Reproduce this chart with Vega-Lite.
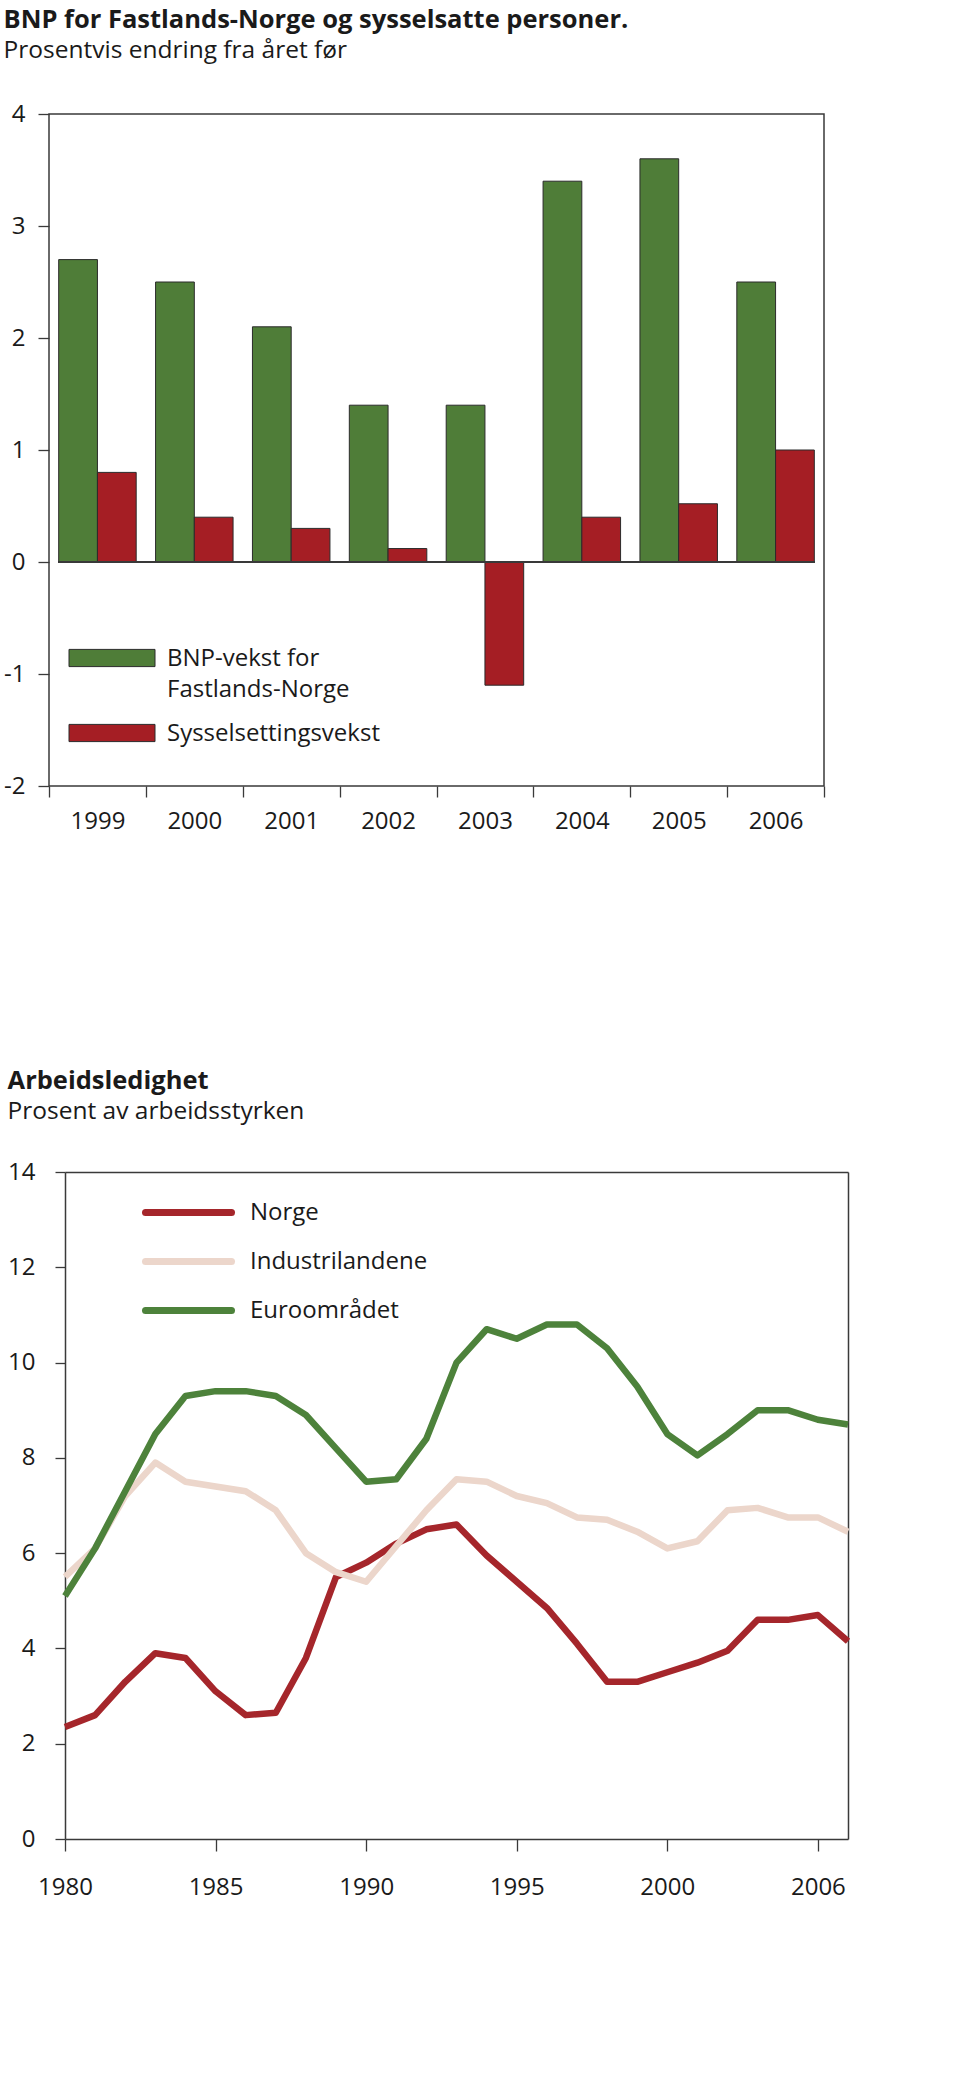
{
  "$schema": "https://vega.github.io/schema/vega-lite/v6.json",
  "background": "white",
  "padding": {"left": 2, "top": 7, "right": 10, "bottom": 10},
  "spacing": 235,
  "resolve": {"scale": {"color": "independent"}, "legend": {"color": "independent"}},
  "config": {
    "font": "Open Sans",
    "view": {"stroke": "#3a3a3a", "strokeWidth": 1.5},
    "title": {"anchor": "start", "frame": "bounds", "font": "Open Sans", "fontSize": 25.5, "fontWeight": "bold", "color": "#1a1a1a", "subtitleFont": "Open Sans", "subtitleFontSize": 24.5, "subtitleColor": "#1a1a1a", "subtitlePadding": 5},
    "axis": {"grid": false, "domain": false, "title": null, "labelFont": "Open Sans", "labelFontSize": 24, "labelColor": "#1a1a1a", "tickColor": "#3a3a3a", "tickWidth": 1.3, "domainColor": "#3a3a3a", "domainWidth": 1.5},
    "legend": {"title": null, "labelFont": "Open Sans", "labelFontSize": 24, "labelColor": "#1a1a1a", "padding": 0, "labelLimit": 0}
  },
  "vconcat": [
    {
      "title": {"text": "BNP for Fastlands-Norge og sysselsatte personer.", "subtitle": "Prosentvis endring fra året før", "offset": 40},
      "width": 775,
      "height": 672,
      "data": {"values": [
        {"year": "1999", "serie": "BNP-vekst for Fastlands-Norge", "value": 2.7},
        {"year": "1999", "serie": "Sysselsettingsvekst", "value": 0.8},
        {"year": "2000", "serie": "BNP-vekst for Fastlands-Norge", "value": 2.5},
        {"year": "2000", "serie": "Sysselsettingsvekst", "value": 0.4},
        {"year": "2001", "serie": "BNP-vekst for Fastlands-Norge", "value": 2.1},
        {"year": "2001", "serie": "Sysselsettingsvekst", "value": 0.3},
        {"year": "2002", "serie": "BNP-vekst for Fastlands-Norge", "value": 1.4},
        {"year": "2002", "serie": "Sysselsettingsvekst", "value": 0.12},
        {"year": "2003", "serie": "BNP-vekst for Fastlands-Norge", "value": 1.4},
        {"year": "2003", "serie": "Sysselsettingsvekst", "value": -1.1},
        {"year": "2004", "serie": "BNP-vekst for Fastlands-Norge", "value": 3.4},
        {"year": "2004", "serie": "Sysselsettingsvekst", "value": 0.4},
        {"year": "2005", "serie": "BNP-vekst for Fastlands-Norge", "value": 3.6},
        {"year": "2005", "serie": "Sysselsettingsvekst", "value": 0.52},
        {"year": "2006", "serie": "BNP-vekst for Fastlands-Norge", "value": 2.5},
        {"year": "2006", "serie": "Sysselsettingsvekst", "value": 1.0}
      ]},
      "layer": [
        {
          "mark": {"type": "bar", "stroke": "#2b2b2b", "strokeWidth": 1},
          "encoding": {
            "x": {"field": "year", "type": "ordinal", "scale": {"paddingInner": 0, "paddingOuter": 0},
                  "axis": {"tickBand": "extent", "labelAngle": 0, "tickSize": 11, "labelPadding": 12}},
            "xOffset": {"field": "serie", "type": "nominal", "sort": ["BNP-vekst for Fastlands-Norge", "Sysselsettingsvekst"], "scale": {"paddingInner": 0, "paddingOuter": 0.25}},
            "y": {"field": "value", "type": "quantitative", "scale": {"domain": [-2, 4], "nice": false, "zero": false},
                  "axis": {"values": [-2, -1, 0, 1, 2, 3, 4], "tickSize": 11, "labelPadding": 13, "labelExpr": "'' + datum.value"}},
            "color": {"field": "serie", "type": "nominal",
                      "scale": {"domain": ["BNP-vekst for Fastlands-Norge", "Sysselsettingsvekst"], "range": ["#4f7d38", "#a51e24"]},
                      "legend": {"orient": "none", "legendX": 51, "legendY": 532,
                                 "symbolType": "M-4.3,-0.86H4.3V0.86H-4.3Z", "symbolSize": 400,
                                 "symbolStrokeColor": "#2b2b2b", "symbolStrokeWidth": 1, "symbolOpacity": 1,
                                 "labelOffset": 43, "rowPadding": 19, "labelBaseline": "alphabetic",
                                 "labelExpr": "datum.label == 'BNP-vekst for Fastlands-Norge' ? ['BNP-vekst for', 'Fastlands-Norge'] : datum.label",
                                 "encode": {"labels": {"update": {"dy": {"value": 8}, "lineHeight": {"value": 31}}}}}}
          }
        },
        {
          "mark": {"type": "rule", "color": "#3a3a3a", "strokeWidth": 1.3},
          "encoding": {
            "y": {"datum": 0},
            "x": {"datum": "1999", "bandPosition": 0.1},
            "x2": {"datum": "2006", "bandPosition": 0.9}
          }
        }
      ]
    },
    {
      "title": {"text": "Arbeidsledighet", "subtitle": "Prosent av arbeidsstyrken", "offset": 37},
      "width": 799,
      "height": 667,
      "view": {"stroke": null},
      "resolve": {"axis": {"x": "independent", "y": "independent"}},
      "data": {"values": [
        {"year": 1980, "serie": "Norge", "value": 2.35},
        {"year": 1981, "serie": "Norge", "value": 2.6},
        {"year": 1982, "serie": "Norge", "value": 3.3},
        {"year": 1983, "serie": "Norge", "value": 3.9},
        {"year": 1984, "serie": "Norge", "value": 3.8},
        {"year": 1985, "serie": "Norge", "value": 3.1},
        {"year": 1986, "serie": "Norge", "value": 2.6},
        {"year": 1987, "serie": "Norge", "value": 2.65},
        {"year": 1988, "serie": "Norge", "value": 3.8},
        {"year": 1989, "serie": "Norge", "value": 5.5},
        {"year": 1990, "serie": "Norge", "value": 5.8},
        {"year": 1991, "serie": "Norge", "value": 6.2},
        {"year": 1992, "serie": "Norge", "value": 6.5},
        {"year": 1993, "serie": "Norge", "value": 6.6},
        {"year": 1994, "serie": "Norge", "value": 5.95},
        {"year": 1995, "serie": "Norge", "value": 5.4},
        {"year": 1996, "serie": "Norge", "value": 4.85},
        {"year": 1997, "serie": "Norge", "value": 4.1},
        {"year": 1998, "serie": "Norge", "value": 3.3},
        {"year": 1999, "serie": "Norge", "value": 3.3},
        {"year": 2000, "serie": "Norge", "value": 3.5},
        {"year": 2001, "serie": "Norge", "value": 3.7},
        {"year": 2002, "serie": "Norge", "value": 3.95},
        {"year": 2003, "serie": "Norge", "value": 4.6},
        {"year": 2004, "serie": "Norge", "value": 4.6},
        {"year": 2005, "serie": "Norge", "value": 4.7},
        {"year": 2006, "serie": "Norge", "value": 4.15},
        {"year": 1980, "serie": "Industrilandene", "value": 5.5},
        {"year": 1981, "serie": "Industrilandene", "value": 6.1},
        {"year": 1982, "serie": "Industrilandene", "value": 7.2},
        {"year": 1983, "serie": "Industrilandene", "value": 7.9},
        {"year": 1984, "serie": "Industrilandene", "value": 7.5},
        {"year": 1985, "serie": "Industrilandene", "value": 7.4},
        {"year": 1986, "serie": "Industrilandene", "value": 7.3},
        {"year": 1987, "serie": "Industrilandene", "value": 6.9},
        {"year": 1988, "serie": "Industrilandene", "value": 6.0},
        {"year": 1989, "serie": "Industrilandene", "value": 5.6},
        {"year": 1990, "serie": "Industrilandene", "value": 5.4},
        {"year": 1991, "serie": "Industrilandene", "value": 6.15},
        {"year": 1992, "serie": "Industrilandene", "value": 6.9},
        {"year": 1993, "serie": "Industrilandene", "value": 7.55},
        {"year": 1994, "serie": "Industrilandene", "value": 7.5},
        {"year": 1995, "serie": "Industrilandene", "value": 7.2},
        {"year": 1996, "serie": "Industrilandene", "value": 7.05},
        {"year": 1997, "serie": "Industrilandene", "value": 6.75},
        {"year": 1998, "serie": "Industrilandene", "value": 6.7},
        {"year": 1999, "serie": "Industrilandene", "value": 6.45},
        {"year": 2000, "serie": "Industrilandene", "value": 6.1},
        {"year": 2001, "serie": "Industrilandene", "value": 6.25},
        {"year": 2002, "serie": "Industrilandene", "value": 6.9},
        {"year": 2003, "serie": "Industrilandene", "value": 6.95},
        {"year": 2004, "serie": "Industrilandene", "value": 6.75},
        {"year": 2005, "serie": "Industrilandene", "value": 6.75},
        {"year": 2006, "serie": "Industrilandene", "value": 6.45},
        {"year": 1980, "serie": "Euroområdet", "value": 5.1},
        {"year": 1981, "serie": "Euroområdet", "value": 6.1},
        {"year": 1982, "serie": "Euroområdet", "value": 7.3},
        {"year": 1983, "serie": "Euroområdet", "value": 8.5},
        {"year": 1984, "serie": "Euroområdet", "value": 9.3},
        {"year": 1985, "serie": "Euroområdet", "value": 9.4},
        {"year": 1986, "serie": "Euroområdet", "value": 9.4},
        {"year": 1987, "serie": "Euroområdet", "value": 9.3},
        {"year": 1988, "serie": "Euroområdet", "value": 8.9},
        {"year": 1989, "serie": "Euroområdet", "value": 8.2},
        {"year": 1990, "serie": "Euroområdet", "value": 7.5},
        {"year": 1991, "serie": "Euroområdet", "value": 7.55},
        {"year": 1992, "serie": "Euroområdet", "value": 8.4},
        {"year": 1993, "serie": "Euroområdet", "value": 10.0},
        {"year": 1994, "serie": "Euroområdet", "value": 10.7},
        {"year": 1995, "serie": "Euroområdet", "value": 10.5},
        {"year": 1996, "serie": "Euroområdet", "value": 10.8},
        {"year": 1997, "serie": "Euroområdet", "value": 10.8},
        {"year": 1998, "serie": "Euroområdet", "value": 10.3},
        {"year": 1999, "serie": "Euroområdet", "value": 9.5},
        {"year": 2000, "serie": "Euroområdet", "value": 8.5},
        {"year": 2001, "serie": "Euroområdet", "value": 8.05},
        {"year": 2002, "serie": "Euroområdet", "value": 8.5},
        {"year": 2003, "serie": "Euroområdet", "value": 9.0},
        {"year": 2004, "serie": "Euroområdet", "value": 9.0},
        {"year": 2005, "serie": "Euroområdet", "value": 8.8},
        {"year": 2006, "serie": "Euroområdet", "value": 8.7}
      ]},
      "layer": [
        {
          "mark": {"type": "line", "strokeWidth": 6.5, "strokeJoin": "round"},
          "encoding": {
            "x": {"field": "year", "type": "quantitative", "scale": {"domain": [1980, 2006], "nice": false, "zero": false, "range": [16, 799]},
                  "axis": {"orient": "bottom", "domain": true, "values": [1980, 1985, 1990, 1995, 2000, 2005], "tickSize": 12, "labelPadding": 24,
                           "labelExpr": "datum.value == 2005 ? '2006' : '' + datum.value", "labelFlush": false}},
            "y": {"field": "value", "type": "quantitative", "scale": {"domain": [0, 14], "nice": false},
                  "axis": {"orient": "left", "offset": -16, "domain": true, "values": [0, 2, 4, 6, 8, 10, 12, 14], "tickSize": 10, "labelPadding": 20, "labelExpr": "'' + datum.value"}},
            "color": {"field": "serie", "type": "nominal",
                      "scale": {"domain": ["Norge", "Industrilandene", "Euroområdet"], "range": ["#a5262b", "#ecd6cb", "#4d823b"]},
                      "legend": {"orient": "none", "legendX": 126, "legendY": 27,
                                 "symbolType": "M-4.3,0H4.3", "symbolSize": 400, "symbolStrokeWidth": 7,
                                 "labelOffset": 48, "rowPadding": 20,
                                 "encode": {"symbols": {"update": {"strokeCap": {"value": "round"}}}}}}
          }
        },
        {
          "mark": {"type": "point", "opacity": 0},
          "encoding": {
            "x": {"field": "year", "type": "quantitative", "axis": {"orient": "top", "domain": true, "labels": false, "ticks": false}},
            "y": {"field": "value", "type": "quantitative", "axis": {"orient": "right", "domain": true, "labels": false, "ticks": false}}
          }
        }
      ]
    }
  ]
}
